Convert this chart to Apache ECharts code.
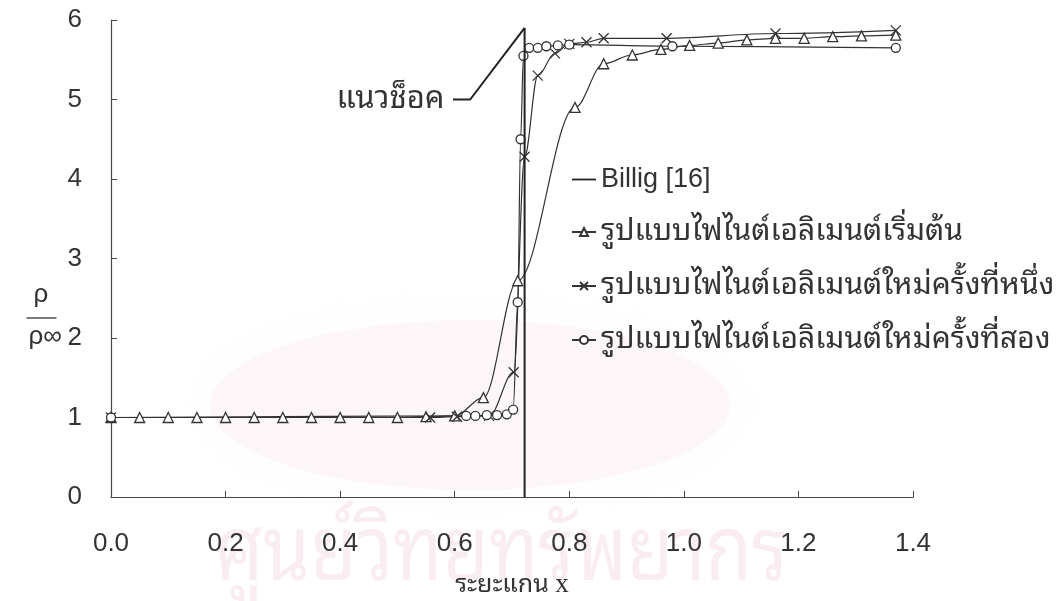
<!DOCTYPE html>
<html>
<head>
<meta charset="utf-8">
<script src="https://cdn.jsdelivr.net/npm/echarts@6/dist/echarts.min.js"></script>
<style>
  html, body { margin: 0; padding: 0; background: #fff; }
  #chart { width: 1060px; height: 601px; }
</style>
</head>
<body>
<div id="chart"></div>
<script>
// Density ratio across the shock, three finite-element meshes vs Billig
const xTicks = [0.0, 0.2, 0.4, 0.6, 0.8, 1.0, 1.2, 1.4];
const yTicks = [0, 1, 2, 3, 4, 5, 6];

// Billig [16]: shock location
const billigX = [0.722, 0.722];
const billigY = [0, 5.9];

// leader for the shock-location note
const noteX = [0.597, 0.627, 0.722];
const noteY = [5.0, 5.0, 5.9];

// initial finite-element mesh
const triX = [0, 0.05, 0.10, 0.15, 0.20, 0.25, 0.30, 0.35, 0.40, 0.45, 0.50, 0.55, 0.60,
              0.65, 0.71, 0.81, 0.86, 0.91, 0.96, 1.01, 1.06, 1.11, 1.16, 1.21, 1.26, 1.31, 1.37];
const triY = [1, 1, 1, 1, 1, 1, 1, 1, 1, 1, 1, 1.01, 1.02,
              1.25, 2.72, 4.9, 5.45, 5.56, 5.63, 5.68, 5.71, 5.75, 5.77, 5.77, 5.79, 5.8, 5.81];

// first adapted mesh
const crossX = [0, 0.557, 0.604, 0.66, 0.703, 0.722, 0.745, 0.775, 0.80, 0.83, 0.86, 0.97, 1.16, 1.37];
const crossY = [1, 1.0, 1.01, 1.02, 1.57, 4.28, 5.3, 5.58, 5.7, 5.72, 5.77, 5.77, 5.83, 5.87];

// second adapted mesh
const circX = [0, 0.62, 0.636, 0.656, 0.674, 0.691, 0.702, 0.71, 0.715, 0.72, 0.73, 0.745, 0.76, 0.78, 0.80, 0.98, 1.37];
const circY = [1, 1.02, 1.02, 1.03, 1.03, 1.04, 1.1, 2.45, 4.5, 5.55, 5.65, 5.65, 5.67, 5.68, 5.69, 5.67, 5.65];

const names = ['Billig [16]', 'รูปแบบไฟไนต์เอลิเมนต์เริ่มต้น',
               'รูปแบบไฟไนต์เอลิเมนต์ใหม่ครั้งที่หนึ่ง', 'รูปแบบไฟไนต์เอลิเมนต์ใหม่ครั้งที่สอง'];

const zip = (xs, ys) => xs.map((x, i) => [x, ys[i]]);
const ink = '#333';
const thaiFont = '"Noto Sans Thai Looped", Loma, Garuda, "Noto Sans Thai", "Noto Sans", sans-serif';
const numFont = '"Liberation Sans", Arial, sans-serif';
const crossPath = 'path://M0,0L10,10M10,0L0,10';

function markSeries(name, data, symbol, size) {
  return {
    name: name, type: 'line', data: data,
    smooth: 0.35, smoothMonotone: 'x',
    symbol: symbol, symbolSize: size, showAllSymbol: true,
    lineStyle: { color: ink, width: 1.2 },
    itemStyle: { color: '#fff', borderColor: ink, borderWidth: 1.3 },
    emphasis: { disabled: true }, z: 3
  };
}

const chart = echarts.init(document.getElementById('chart'), null, { renderer: 'canvas' });
chart.setOption({
  animation: false,
  backgroundColor: '#fff',
  grid: { left: 111, right: 147, top: 20, bottom: 104, containLabel: false, outerBoundsMode: 'none' },
  xAxis: {
    type: 'value', min: xTicks[0], max: xTicks[xTicks.length - 1], interval: 0.2,
    name: '{th|ระยะแกน }{s|x}', nameLocation: 'middle', nameGap: 74,
    nameTextStyle: {
      color: ink,
      rich: {
        th: { fontFamily: thaiFont, fontSize: 25, color: ink },
        s: { fontFamily: '"Liberation Serif", "DejaVu Serif", serif', fontSize: 27, color: ink }
      }
    },
    axisLine: { lineStyle: { color: '#444', width: 1.2 } },
    axisTick: { inside: true, length: 6, lineStyle: { color: '#444' } },
    axisLabel: { margin: 34, fontFamily: numFont, fontSize: 26, color: ink,
                 formatter: v => v.toFixed(1) },
    splitLine: { show: false }
  },
  yAxis: {
    type: 'value', min: yTicks[0], max: yTicks[yTicks.length - 1], interval: 1,
    axisLine: { show: true, lineStyle: { color: '#444', width: 1.2 } },
    axisTick: { show: true, inside: true, length: 6, lineStyle: { color: '#444' } },
    axisLabel: { margin: 29, fontFamily: numFont, fontSize: 26, color: ink },
    splitLine: { show: false }
  },
  legend: {
    orient: 'vertical', left: 566, top: 161, itemGap: 24,
    itemWidth: 24, itemHeight: 10,
    data: [{ name: names[0], icon: 'path://M0,0L24,0L24,1.8L0,1.8Z' }, names[1], names[2], names[3]],
    formatter: n => n === names[0] ? '{en|' + n + '}' : '{th|' + n + '}',
    textStyle: {
      color: ink,
      rich: {
        en: { fontFamily: numFont, fontSize: 27, color: ink, lineHeight: 31 },
        th: { fontFamily: thaiFont, fontSize: 30, color: ink, lineHeight: 31 }
      }
    },
    inactiveColor: ink, selectedMode: false
  },
  graphic: [
    {
      type: 'ellipse', shape: { cx: 470, cy: 405, rx: 260, ry: 85 }, z: -11, silent: true,
      style: { fill: 'rgba(248,228,236,0.25)', shadowBlur: 40, shadowColor: 'rgba(248,228,236,0.4)' }
    },
    {
      type: 'text', left: 215, top: 510, z: -10, silent: true, scaleX: 0.84,
      style: { text: 'ศูนย์วิทยทรัพยากร', font: '90px ' + thaiFont, fill: 'rgba(236,196,214,0.32)' }
    },
    {
      type: 'group', left: 24, top: 282,
      children: [
        { type: 'text', left: 7, top: 0, style: { text: 'ρ', font: '26px ' + numFont, fill: ink } },
        { type: 'line', shape: { x1: 0, y1: 36, x2: 30, y2: 36 }, style: { stroke: ink, lineWidth: 1.3 } },
        { type: 'text', left: 2, top: 42, style: { text: 'ρ∞', font: '26px ' + numFont, fill: ink } }
      ]
    }
  ],
  series: [
    {
      name: names[0], type: 'line', data: zip(billigX, billigY),
      symbol: 'none', lineStyle: { color: '#222', width: 2 },
      itemStyle: { color: '#222' }, emphasis: { disabled: true }, z: 4
    },
    {
      name: 'note', type: 'line', symbol: 'circle', symbolSize: 1, showAllSymbol: true,
      lineStyle: { color: '#222', width: 2 }, itemStyle: { color: 'rgba(0,0,0,0)' },
      emphasis: { disabled: true },
      data: zip(noteX, noteY).map((p, i) => i === 0 ? {
        value: p,
        label: { show: true, position: 'left', distance: 8, formatter: 'แนวช็อค',
                 fontFamily: thaiFont, fontSize: 31, color: ink }
      } : p)
    },
    markSeries(names[1], zip(triX, triY), 'triangle', 10),
    markSeries(names[2], zip(crossX, crossY), crossPath, 10),
    markSeries(names[3], zip(circX, circY), 'circle', 9)
  ]
});
</script>
</body>
</html>
